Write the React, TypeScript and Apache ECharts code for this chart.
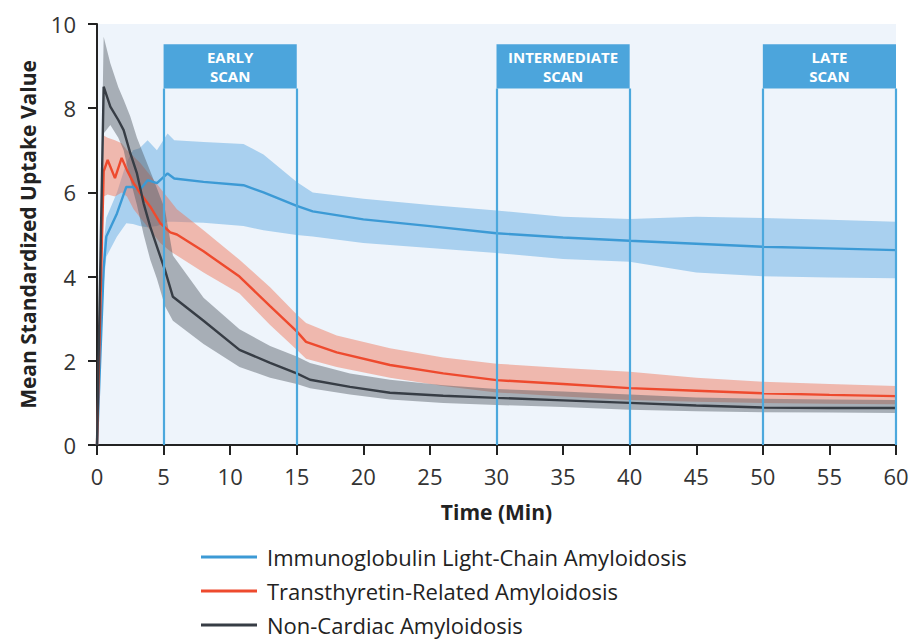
import React, { useEffect, useRef } from 'react';
import * as echarts from 'echarts';

// Time axis ticks
const xTicks = [0, 5, 10, 15, 20, 25, 30, 35, 40, 45, 50, 55, 60];
const yTicks = [0, 2, 4, 6, 8, 10];

// Immunoglobulin Light-Chain Amyloidosis (AL)
const alTime = [0, 0.5, 0.7, 1.5, 2.2, 2.7, 3.2, 3.8, 4.5, 5.3, 5.8, 8, 11, 12.5, 15, 16.2, 20, 25, 30, 35, 40, 45, 50, 55, 60];
const alMean = [0, 4.2, 4.95, 5.5, 6.13, 6.13, 6.05, 6.29, 6.22, 6.45, 6.33, 6.25, 6.17, 6.0, 5.68, 5.55, 5.36, 5.2, 5.03, 4.93, 4.85, 4.78, 4.71, 4.67, 4.63];
const alUpper = [0, 4.8, 5.4, 6.0, 6.7, 7.0, 7.05, 7.24, 7.0, 7.4, 7.24, 7.2, 7.15, 6.9, 6.25, 6.0, 5.85, 5.7, 5.57, 5.42, 5.37, 5.42, 5.39, 5.35, 5.3];
const alLower = [0, 3.8, 4.47, 4.95, 5.27, 5.25, 5.2, 5.17, 5.2, 5.3, 5.3, 5.28, 5.2, 5.1, 4.99, 4.95, 4.8, 4.68, 4.56, 4.42, 4.35, 4.1, 4.01, 3.98, 3.96];

// Transthyretin-Related Amyloidosis (ATTR)
const attrTime = [0, 0.5, 0.8, 1.35, 1.85, 2.25, 2.75, 3.25, 4, 4.75, 5.5, 6, 8, 10.7, 13, 15, 15.7, 18, 22, 26, 30, 35, 40, 45, 50, 55, 60];
const attrMean = [0, 6.5, 6.77, 6.34, 6.82, 6.53, 6.22, 5.98, 5.66, 5.27, 5.05, 5.0, 4.6, 4.0, 3.3, 2.7, 2.45, 2.2, 1.9, 1.7, 1.54, 1.45, 1.35, 1.29, 1.23, 1.19, 1.16];
const attrUpper = [0, 7.35, 7.3, 7.24, 7.17, 7.0, 6.85, 6.7, 6.4, 6.1, 5.8, 5.6, 5.1, 4.4, 3.75, 3.1, 2.9, 2.6, 2.3, 2.08, 1.93, 1.83, 1.74, 1.6, 1.5, 1.45, 1.4];
const attrLower = [0, 5.9, 5.95, 5.9, 6.0, 5.9, 5.6, 5.4, 5.1, 4.8, 4.6, 4.5, 4.1, 3.6, 2.85, 2.26, 2.05, 1.85, 1.6, 1.4, 1.25, 1.15, 1.07, 1.03, 1.0, 0.98, 0.97];

// Non-Cardiac Amyloidosis
const ncTime = [0, 0.5, 1, 1.6, 2, 2.5, 3, 3.5, 4, 4.5, 5.1, 5.7, 8, 10.7, 13, 15, 16, 19, 22, 26, 30, 35, 40, 45, 50, 55, 60];
const ncMean = [0, 8.51, 8.04, 7.72, 7.48, 6.93, 6.45, 5.74, 5.18, 4.71, 4.16, 3.52, 2.95, 2.26, 1.95, 1.7, 1.55, 1.38, 1.24, 1.17, 1.12, 1.06, 1.0, 0.94, 0.89, 0.88, 0.88];
const ncUpper = [0, 9.7, 9.07, 8.5, 8.2, 7.8, 7.3, 6.9, 6.5, 6.1, 5.6, 4.5, 3.5, 2.75, 2.35, 2.1, 1.95, 1.7, 1.55, 1.42, 1.33, 1.27, 1.2, 1.13, 1.1, 1.08, 1.07];
const ncLower = [0, 7.4, 7.6, 7.3, 7.0, 6.3, 5.7, 5.0, 4.4, 3.95, 3.3, 2.95, 2.4, 1.85, 1.6, 1.45, 1.35, 1.2, 1.08, 1.0, 0.95, 0.9, 0.84, 0.8, 0.78, 0.77, 0.76];

// Scan windows
const scanNames = ['EARLY\nSCAN', 'INTERMEDIATE\nSCAN', 'LATE\nSCAN'];
const scanStart = [5, 30, 50];
const scanEnd = [15, 40, 60];
const scanTop = 9.52;
const scanBottom = 8.47;

const seriesNames = [
  'Immunoglobulin Light-Chain Amyloidosis',
  'Transthyretin-Related Amyloidosis',
  'Non-Cardiac Amyloidosis',
];

const FONT = 'Open Sans';

function band(name: string, time: number[], lower: number[], upper: number[], fill: string) {
  return {
    type: 'custom',
    name,
    silent: true,
    z: 1,
    clip: true,
    data: [[time[0], lower[0]]],
    renderItem: (_params: any, api: any) => {
      const pts: number[][] = [];
      for (let i = 0; i < time.length; i++) pts.push(api.coord([time[i], upper[i]]));
      for (let i = time.length - 1; i >= 0; i--) pts.push(api.coord([time[i], lower[i]]));
      return { type: 'polygon', shape: { points: pts }, style: { fill } };
    },
  };
}

function line(name: string, time: number[], mean: number[], color: string) {
  return {
    type: 'line',
    name,
    z: 2,
    color,
    showSymbol: false,
    symbol: 'none',
    data: time.map((t, i) => [t, mean[i]]),
    lineStyle: { color, width: 2.4 },
  };
}

export default function App() {
  const ref = useRef<HTMLDivElement>(null);
  useEffect(() => {
    document.body.style.margin = '0';
    document.body.style.overflow = 'hidden';
    const chart = echarts.init(ref.current!, null, { renderer: 'svg' });
    const scanLines: any[] = [];
    scanStart.forEach((s, i) => {
      [s, scanEnd[i]].forEach((x) => {
        scanLines.push([{ coord: [x, 0] }, { coord: [x, scanBottom] }]);
      });
    });
    chart.setOption({
      animation: false,
      textStyle: { fontFamily: FONT },
      grid: {
        left: 97,
        right: 16,
        top: 24,
        bottom: 196,
        show: true,
        backgroundColor: '#eef4fb',
        borderWidth: 0,
      },
      legend: {
        data: seriesNames,
        orient: 'vertical',
        left: 201,
        top: 546,
        padding: 0,
        itemWidth: 56,
        itemHeight: 3,
        itemGap: 12,
        icon: 'rect',
        selectedMode: false,
        textStyle: { fontSize: 22, color: '#222', fontFamily: FONT, padding: [0, 0, 0, 5], lineHeight: 22 },
      },
      xAxis: {
        type: 'value',
        min: 0,
        max: 60,
        interval: 5,
        name: 'Time (Min)',
        nameLocation: 'middle',
        nameGap: 56,
        nameTextStyle: { fontSize: 21, fontWeight: 'bold', color: '#222', fontFamily: FONT },
        axisLine: { show: true, lineStyle: { color: '#222', width: 2 } },
        axisTick: { show: true, length: 10, lineStyle: { color: '#222', width: 2 } },
        axisLabel: { fontSize: 22, color: '#333', margin: 20, fontFamily: FONT,
          formatter: (v: number) => (xTicks.includes(v) ? String(v) : '') },
        splitLine: { show: false },
      },
      yAxis: {
        type: 'value',
        min: 0,
        max: 10,
        interval: 2,
        name: 'Mean Standardized Uptake Value',
        nameLocation: 'middle',
        nameGap: 59,
        nameTextStyle: { fontSize: 21, fontWeight: 'bold', color: '#222', fontFamily: FONT },
        axisLine: { show: true, lineStyle: { color: '#222', width: 2 } },
        axisTick: { show: true, length: 9, lineStyle: { color: '#222', width: 2 } },
        axisLabel: { fontSize: 22, color: '#333', margin: 21, fontFamily: FONT,
          formatter: (v: number) => (yTicks.includes(v) ? String(v) : '') },
        splitLine: { show: false },
      },
      series: [
        band('alBand', alTime, alLower, alUpper, 'rgba(84,164,224,0.45)'),
        band('attrBand', attrTime, attrLower, attrUpper, 'rgba(240,110,80,0.45)'),
        band('ncBand', ncTime, ncLower, ncUpper, 'rgba(80,88,98,0.45)'),
        line(seriesNames[0], alTime, alMean, '#3c9ad5'),
        line(seriesNames[1], attrTime, attrMean, '#ee4a2e'),
        line(seriesNames[2], ncTime, ncMean, '#373d45'),
        {
          type: 'line',
          name: 'scans',
          z: 3,
          data: [],
          silent: true,
          markArea: {
            silent: true,
            itemStyle: { color: '#4ca5dc', opacity: 1 },
            label: {
              show: true,
              position: 'inside',
              color: '#fff',
              fontWeight: 'bold',
              fontSize: 15,
              lineHeight: 19,
              fontFamily: FONT,
            },
            data: scanNames.map((n, i) => [
              { name: n, coord: [scanStart[i], scanTop] },
              { coord: [scanEnd[i], scanBottom] },
            ]),
          },
          markLine: {
            silent: true,
            symbol: ['none', 'none'],
            label: { show: false },
            lineStyle: { color: '#4ca8dd', width: 2.2, type: 'solid' },
            data: scanLines,
          },
        },
      ],
    });
    return () => chart.dispose();
  }, []);
  return <div ref={ref} style={{ width: 912, height: 641 }} />;
}
